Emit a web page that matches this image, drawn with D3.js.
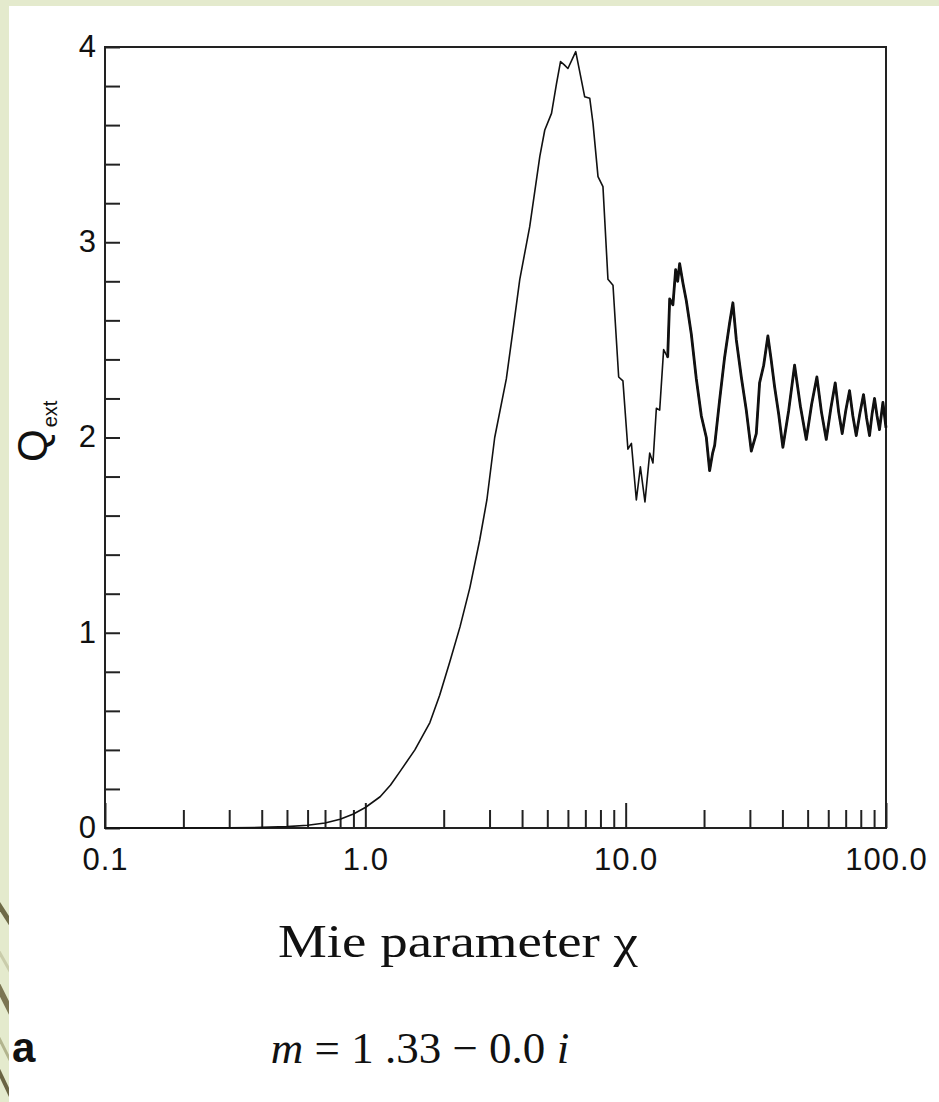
<!DOCTYPE html>
<html>
<head>
<meta charset="utf-8">
<script src="https://cdn.jsdelivr.net/npm/d3@7"></script>
<style>
html,body{margin:0;padding:0;background:#e4eacd;}
svg{display:block;}
</style>
</head>
<body>
<svg id="chart" width="939" height="1102"></svg>
<script>
// ---- data ----
const chi = [0.10,0.20,0.30,0.40,0.50,0.60,0.70,0.80,0.90,1.00,1.14,1.25,1.36,1.55,1.77,1.93,2.11,2.31,2.52,2.75,2.93,3.14,3.48,3.70,3.92,4.28,4.68,4.89,5.19,5.42,5.62,5.80,6.00,6.43,6.76,6.96,7.28,7.49,7.83,8.18,8.55,8.94,9.40,9.76,10.20,10.52,10.99,11.39,11.86,12.37,12.73,13.12,13.51,13.99,14.50,14.76,15.19,15.56,15.84,16.12,16.60,17.10,17.87,18.68,19.53,20.41,21.01,21.58,21.97,22.95,23.99,25.07,25.82,26.61,27.81,29.06,30.38,31.75,32.69,33.90,35.18,36.20,37.33,38.70,40.17,42.30,44.55,46.90,49.40,51.80,54.26,56.50,58.96,61.40,63.83,65.80,67.88,70.10,72.43,74.60,76.85,79.30,81.96,84.20,86.45,88.40,90.35,92.40,94.40,97.30,100.0];
const qext = [0.000,0.000,0.001,0.003,0.007,0.014,0.026,0.045,0.072,0.105,0.16,0.22,0.29,0.40,0.54,0.68,0.85,1.03,1.23,1.475,1.68,2.00,2.30,2.56,2.81,3.08,3.44,3.575,3.66,3.81,3.925,3.91,3.89,3.976,3.83,3.745,3.737,3.61,3.336,3.285,2.81,2.78,2.31,2.29,1.94,1.97,1.68,1.85,1.67,1.92,1.87,2.15,2.14,2.45,2.41,2.71,2.68,2.86,2.80,2.89,2.79,2.70,2.53,2.30,2.11,2.00,1.83,1.92,1.96,2.19,2.41,2.585,2.69,2.50,2.31,2.14,1.93,2.02,2.28,2.37,2.52,2.40,2.26,2.12,1.95,2.14,2.37,2.16,1.99,2.17,2.31,2.13,1.99,2.15,2.28,2.13,2.02,2.14,2.24,2.11,2.01,2.12,2.22,2.10,2.01,2.12,2.20,2.11,2.04,2.18,2.05];
const xTickLabels = ["0.1","1.0","10.0","100.0"];
const xTickValues = [0.1,1,10,100];
const yTickLabels = ["0","1","2","3","4"];
const xTitle = "Mie parameter \u03C7";

// ---- layout ----
const svg = d3.select("#chart");
const W = 939, H = 1102;
const L = 105, R = 886, T = 47, B = 828;
const SANS = "Liberation Sans, Arial, Helvetica, sans-serif";
const SERIF = "Liberation Serif, Times New Roman, serif";

svg.append("rect").attr("width",W).attr("height",H).attr("fill","#e4eacd");
svg.append("rect").attr("x",9).attr("y",6).attr("width",W-9).attr("height",H-6).attr("fill","#ffffff");

// decorative stripes in the left strip
const defs = svg.append("defs");
defs.append("clipPath").attr("id","strip").append("rect").attr("x",0).attr("y",840).attr("width",9).attr("height",262);
const sg = svg.append("g").attr("clip-path","url(#strip)");
[[-30,860,60,1000,"#6e6a47",5],[-30,900,60,1060,"#c9ccab",3],[-30,930,60,1110,"#7b7552",6],[-30,980,60,1160,"#b2b48e",3],[-30,1010,60,1200,"#6a6443",4]].forEach(s=>{
  sg.append("line").attr("x1",s[0]).attr("y1",s[1]).attr("x2",s[2]).attr("y2",s[3]).attr("stroke",s[4]).attr("stroke-width",s[5]);
});

const x = d3.scaleLog().domain([0.1,100]).range([L,R]);
const y = d3.scaleLinear().domain([0,4]).range([B,T]);

// y axis: ticks every 0.2, inward
const yAxis = d3.axisLeft(y)
  .tickValues(d3.range(0,21).map(i=>i*0.2))
  .tickSize(-15)
  .tickPadding(9)
  .tickFormat(d => Math.abs(d-Math.round(d))<1e-6 ? yTickLabels[Math.round(d)] : "");
const gy = svg.append("g").attr("transform",`translate(${L},0)`).call(yAxis);
gy.select(".domain").remove();
gy.selectAll(".tick line").attr("stroke","#222").attr("stroke-width",2);
gy.selectAll(".tick text").attr("font-family",SANS).attr("font-size",31).attr("fill","#111").attr("dy","0.3em");

// x axis minor ticks (2..9 in each decade)
const minor = [];
[0.1,1,10].forEach(d=>{for(let k=2;k<=9;k++) minor.push(d*k);});
const gxm = svg.append("g").attr("transform",`translate(0,${B})`)
  .call(d3.axisBottom(x).tickValues(minor).tickSize(-18).tickFormat(""));
gxm.select(".domain").remove();
gxm.selectAll(".tick line").attr("stroke","#222").attr("stroke-width",2);

// x axis major ticks with labels
const gx = svg.append("g").attr("transform",`translate(0,${B})`)
  .call(d3.axisBottom(x).tickValues(xTickValues).tickSize(-25).tickPadding(36)
        .tickFormat((d,i)=>xTickLabels[i]));
gx.select(".domain").remove();
gx.selectAll(".tick line").attr("stroke","#222").attr("stroke-width",2);
gx.selectAll(".tick text").attr("font-family",SANS).attr("font-size",31).attr("letter-spacing","1px").attr("fill","#111").attr("dy","0.2em");

// frame
svg.append("rect").attr("x",L).attr("y",T).attr("width",R-L).attr("height",B-T)
  .attr("fill","none").attr("stroke","#222").attr("stroke-width",2);

// curve
const pts = chi.map((c,i)=>[c,qext[i]]);
const line = d3.line().x(d=>x(d[0])).y(d=>y(d[1]));
svg.append("path").datum(pts).attr("d",line).attr("fill","none").attr("stroke","#111").attr("stroke-width",1.6).attr("stroke-linejoin","round");
svg.append("path").datum(pts.filter(d=>d[0]>=14)).attr("d",line).attr("fill","none").attr("stroke","#111").attr("stroke-width",2.8).attr("stroke-linejoin","round");

// y title Q_ext
const yt = svg.append("text").attr("transform","translate(47,462) rotate(-90)")
  .attr("font-family",SANS).attr("fill","#111");
yt.append("tspan").attr("font-size",42).text("Q");
yt.append("tspan").attr("font-size",20).attr("dx",2).attr("dy",10).text("ext");

// x title
svg.append("text").attr("x",458).attr("y",957).attr("text-anchor","middle")
  .attr("font-family",SERIF).attr("font-size",46).attr("fill","#111")
  .attr("textLength",360).attr("lengthAdjust","spacingAndGlyphs")
  .text(xTitle);

// refractive index caption
const cap = svg.append("text").attr("x",420).attr("y",1063).attr("text-anchor","middle")
  .attr("font-family",SERIF).attr("font-size",45).attr("fill","#111");
cap.append("tspan").attr("font-style","italic").text("m");
cap.append("tspan").text(" = 1 .33 \u2212 0.0 ");
cap.append("tspan").attr("font-style","italic").text("i");

// panel label
svg.append("text").attr("x",12).attr("y",1062).attr("font-family",SANS)
  .attr("font-weight","bold").attr("font-size",42).attr("fill","#111").text("a");
</script>
</body>
</html>
